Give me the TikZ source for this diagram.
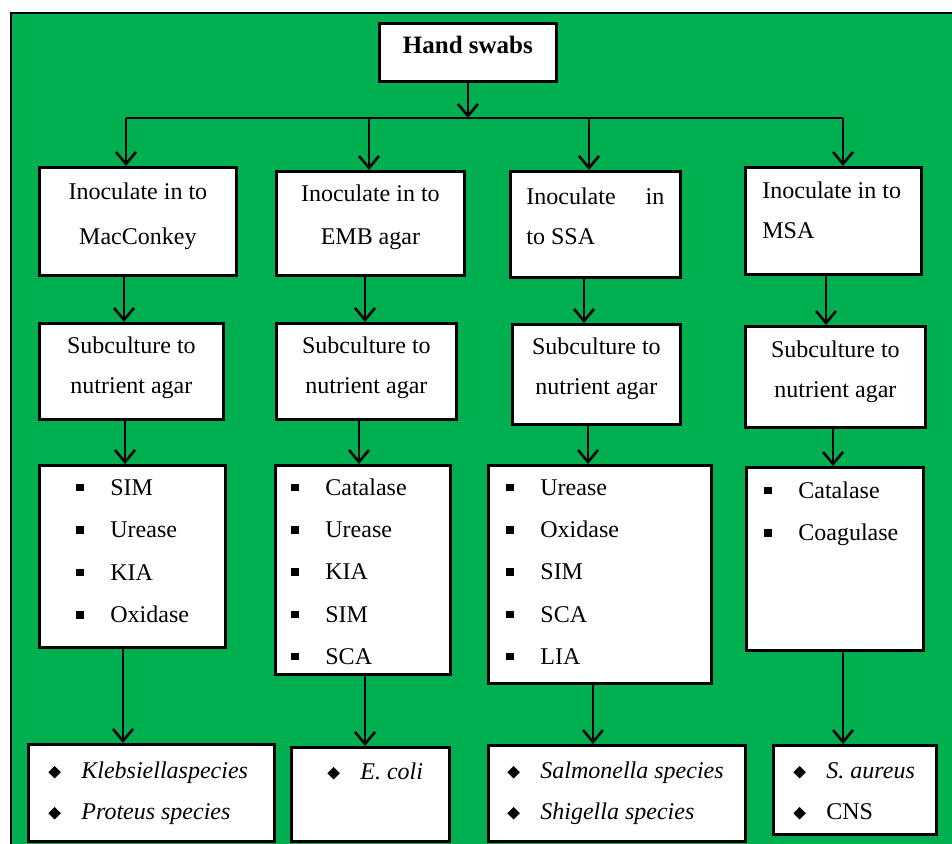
\documentclass[tikz,border=0pt]{standalone}
\usepackage{fontspec}
\setmainfont{Liberation Serif}
\usetikzlibrary{arrows.meta}
\definecolor{swabgreen}{RGB}{0,176,80}
\newcommand{\sqitem}[1]{\makebox[17pt][l]{\rule[2pt]{3.7pt}{3.7pt}}\mbox{#1}}
\newcommand{\dmitem}[1]{\makebox[16.5pt][l]{\rotatebox{45}{\rule{4.4pt}{4.4pt}}}\mbox{#1}}

\begin{document}
\begin{tikzpicture}[x=0.5pt, y=-0.5pt,
    box/.style={draw=black, line width=1.4pt, fill=white, anchor=north west,
                inner ysep=0pt, inner xsep=0pt, font=\fontsize{12}{#1}\selectfont},
    box/.default=20pt,
    arr/.style={line width=1.3pt, -{Straight Barb[length=6pt, width=10pt]}}]
    \useasboundingbox (0,0) rectangle (952,844);
    % background panel
    \fill[swabgreen] (11,13) rectangle (952,844);
    \draw[line width=1.2pt] (11,844) -- (11,13) -- (952,13);

    \node[box, text width=88.5pt, text height=15pt, text depth=14pt, align=flush center,
          font=\fontsize{12.5}{20}\selectfont\bfseries] (hs) at (378,22) {Hand swabs};

    % inoculation
    \node[box=22.5pt, text width=98.5pt, text height=16pt, text depth=38pt, align=flush center] (a1) at (38,166) {Inoculate in to\\MacConkey};
    \node[box=21.5pt, text width=94pt, text height=15pt, text depth=37pt, align=flush center] (a2) at (275,170) {Inoculate in to\\EMB agar};
    \node[box, inner xsep=8pt, text width=69pt, text height=16.5pt, text depth=36.5pt, align=flush left] (a3) at (509,170) {Inoculate\hfill in\\to SSA};
    \node[box, inner xsep=8.5pt, text width=71pt, text height=15.5pt, text depth=38pt, align=flush left] (a4) at (744,166) {\mbox{Inoculate in to}\\MSA};

    % subculture
    \node[box, text width=92pt, text height=15pt, text depth=33pt, align=flush center] (b1) at (38,322) {Subculture to\\nutrient agar};
    \node[box, text width=90pt, text height=15pt, text depth=33pt, align=flush center] (b2) at (275,322) {Subculture to\\nutrient agar};
    \node[box, text width=84pt, text height=15pt, text depth=35pt, align=flush center] (b3) at (511,323) {Subculture to\\nutrient agar};
    \node[box, text width=90pt, text height=15.5pt, text depth=35pt, align=flush center] (b4) at (744,325) {Subculture to\\nutrient agar};

    % tests
    \node[box=21.2pt, inner xsep=18.5pt, text width=56pt, text height=15pt, text depth=76pt, align=flush left] (c1) at (38,464)
        {\sqitem{SIM}\\\sqitem{Urease}\\\sqitem{KIA}\\\sqitem{Oxidase}};
    \node[box=21.1pt, inner xsep=8pt, text width=71.5pt, text height=15pt, text depth=89.5pt, align=flush left] (c2) at (274,464)
        {\sqitem{Catalase}\\\sqitem{Urease}\\\sqitem{KIA}\\\sqitem{SIM}\\\sqitem{SCA}};
    \node[box=21.1pt, inner xsep=9pt, text width=93.5pt, text height=15pt, text depth=94pt, align=flush left] (c3) at (487,464)
        {\sqitem{Urease}\\\sqitem{Oxidase}\\\sqitem{SIM}\\\sqitem{SCA}\\\sqitem{LIA}};
    \node[box=21.1pt, inner xsep=9pt, text width=70.5pt, text height=15.5pt, text depth=76pt, align=flush left] (c4) at (745,466)
        {\sqitem{Catalase}\\\sqitem{Coagulase}};

    % organisms
    \node[box=20.5pt, inner xsep=10pt, text width=103pt, text height=17pt, text depth=31.5pt, align=flush left] (d1) at (27,743)
        {\dmitem{\itshape Klebsiellaspecies}\\\dmitem{\itshape Proteus species}};
    \node[box=20.5pt, inner xsep=18pt, text width=43pt, text height=16pt, text depth=31pt, align=flush left] (d2) at (290,746)
        {\dmitem{\itshape E. coli}};
    \node[box=20.5pt, inner xsep=9.5pt, text width=109.5pt, text height=16.5pt, text depth=31.5pt, align=flush left] (d3) at (487,744)
        {\dmitem{\itshape Salmonella species}\\\dmitem{\itshape Shigella species}};
    \node[box=20.5pt, inner xsep=10pt, text width=61.5pt, text height=16.5pt, text depth=28pt, align=flush left] (d4) at (772,744)
        {\dmitem{\itshape S. aureus}\\\dmitem{CNS}};

    % connectors
    \coordinate (bar) at (466,118);
    \draw[arr] (hs.south) -- (hs.south |- bar);
    \draw[line width=1.3pt] (126,0 |- bar) -- (843,0 |- bar);
    \foreach \x/\n in {126/a1, 369/a2, 589/a3, 843/a4}
        \draw[arr] (\x,0 |- bar) -- (\x,0 |- \n.north);
    \foreach \s/\t/\x in {a1/b1/124, a2/b2/365, a3/b3/584, a4/b4/826,
                          b1/c1/125, b2/c2/359, b3/c3/588, b4/c4/833,
                          c1/d1/123, c2/d2/365, c3/d3/593, c4/d4/843}
        \draw[arr] (\x,0 |- \s.south) -- (\x,0 |- \t.north);
\end{tikzpicture}
\end{document}
